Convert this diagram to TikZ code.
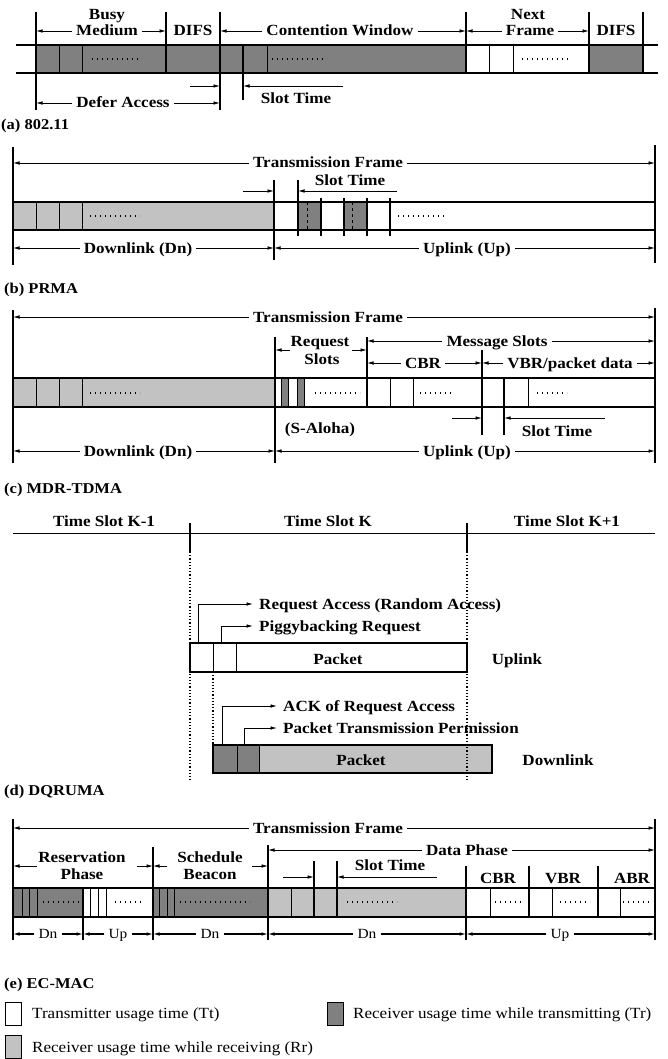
\documentclass[tikz,border=0pt]{standalone}
\usepackage{fontspec}
\setmainfont{Liberation Serif}[FakeStretch=1.1]
\usetikzlibrary{arrows.meta}
\newcommand\labfnt{\fontsize{15.5}{17}\selectfont\bfseries}
\newcommand\capfnt{\fontsize{15}{17}\selectfont\bfseries}
\newcommand\legfnt{\fontsize{15.5}{17}\selectfont}
\newcommand\smfnt{\fontsize{14}{16}\selectfont}
\colorlet{trc}{black!50}
\colorlet{rrc}{black!24}
\newcommand\dimtext[7][lab]{%
  \node[#1] (#2) at (#3,#4) {#7};
  \draw[arr] ([xshift=-4pt]#2.west) -- (#5,#4);
  \draw[arr] ([xshift=4pt]#2.east) -- (#6,#4);}
\begin{document}
\begin{tikzpicture}[x=1pt,y=-1pt,
  lab/.style={font=\labfnt, inner sep=0pt, text height=10pt, text depth=0pt},
  capt/.style={font=\capfnt, inner sep=0pt, text height=10pt, text depth=0pt},
  leg/.style={font=\legfnt, inner sep=0pt, text height=10pt, text depth=0pt},
  sm/.style={font=\smfnt, inner sep=0pt, text height=9pt, text depth=0pt},
  arr/.style={-{Latex[length=6.5pt,width=3.6pt]}, line width=0.8pt},
  vl/.style={line width=1.1pt},
  thin1/.style={line width=0.9pt},
  barl/.style={line width=1.8pt},
  fr/.style={line width=2.4pt},
  dotl/.style={line width=1.4pt, dash pattern=on 1.4pt off 3.6pt},
  dotv/.style={line width=1.2pt, dash pattern=on 1.2pt off 2pt},
  bx/.style={line width=1.3pt},
  legbox/.style={draw, line width=1pt, minimum width=16pt, minimum height=23pt, inner sep=0pt}]
\useasboundingbox (0,0) rectangle (668,1059);

% ---------------- (a) 802.11
\fill[trc] (36,45) rectangle (466,73);
\fill[trc] (589,45) rectangle (643,73);
\draw[thin1] (59,45)--(59,73) (82,45)--(82,73) (267,45)--(267,73) (489,45)--(489,73) (513,45)--(513,73);
\draw[vl] (36,12)--(36,110) (166,12)--(166,73) (220,12)--(220,110) (243,45)--(243,100)
  (466,12)--(466,73) (589,12)--(589,73) (643,12)--(643,73);
\draw[barl] (16,45)--(658,45) (16,73)--(658,73);
\draw[dotl] (92,59)--(140,59) (272,59)--(325,59) (522,59)--(570,59);
\node[lab] (busy) at (107,15) {Busy};
\dimtext{med}{107}{31}{36}{166}{Medium}
\node[lab] (difs1) at (193,31) {DIFS};
\dimtext{cw}{340}{31}{220}{466}{Contention Window}
\node[lab] (next) at (528,15) {Next};
\dimtext{nf}{530}{31}{466}{589}{Frame}
\node[lab] (difs2) at (616,31) {DIFS};
\dimtext{da}{123}{103}{36}{220}{Defer Access}
\draw[arr] (190,86) -- (220,86);
\draw[arr] (343,86) -- (243,86);
\node[lab] (st1) at (296,99) {Slot Time};
\node[capt, anchor=west] (capa) at (1,125) {(a) 802.11};

% ---------------- (b) PRMA
\fill[rrc] (13,202) rectangle (274,230);
\fill[trc] (298,202) rectangle (321,230);
\fill[trc] (344,202) rectangle (367,230);
\draw[thin1] (36,202)--(36,230) (59,202)--(59,230) (82,202)--(82,230);
\draw[thin1, dashed] (307,202)--(307,230) (352,202)--(352,230);
\draw[vl] (274,180)--(274,260) (298,180)--(298,236) (321,198)--(321,236) (344,198)--(344,236)
  (367,198)--(367,236) (390,198)--(390,236);
\draw[barl] (13,202)--(655,202) (13,230)--(655,230);
\draw[fr] (13,147)--(13,265) (655,145)--(655,263);
\draw[dotl] (90,216)--(140,216) (398,216)--(447,216);
\dimtext{tfb}{328}{163}{13}{655}{Transmission Frame}
\draw[arr] (243,191) -- (274,191);
\draw[arr] (397,191) -- (298,191);
\node[lab] (st2) at (350,181) {Slot Time};
\dimtext{dnb}{138}{248}{13}{274}{Downlink (Dn)}
\dimtext{upb}{467}{248}{274}{655}{Uplink (Up)}
\node[capt, anchor=west] (capb) at (4,288) {(b) PRMA};

% ---------------- (c) MDR-TDMA
\fill[rrc] (13,378) rectangle (275,407);
\fill[trc] (281,378) rectangle (288,407);
\fill[trc] (297,378) rectangle (304,407);
\draw[thin1] (36,378)--(36,407) (59,378)--(59,407) (82,378)--(82,407)
  (281,378)--(281,407) (288,378)--(288,407) (297,378)--(297,407) (304,378)--(304,407)
  (390,378)--(390,407) (413,378)--(413,407) (528,378)--(528,407);
\draw[vl] (275,337)--(275,463) (367,337)--(367,407) (482,350)--(482,435) (504,378)--(504,435);
\draw[barl] (13,378)--(655,378) (13,407)--(655,407);
\draw[fr] (13,310)--(13,463) (655,308)--(655,463);
\draw[dotl] (90,393)--(140,393) (315,393)--(360,393) (420,393)--(452,393) (537,393)--(567,393);
\dimtext{tfc}{328}{317}{13}{655}{Transmission Frame}
\node[lab] (req) at (320,341) {Request};
\node[lab] (slots) at (322,359) {Slots};
\draw[arr] (290,350) -- (275,350);
\draw[arr] (352,350) -- (367,350);
\dimtext{ms}{497}{341}{367}{655}{Message Slots}
\dimtext{cbr}{423}{363}{367}{482}{CBR}
\dimtext{vbr}{570}{363}{482}{655}{VBR/packet data}
\node[lab] (aloha) at (320,428) {(S-Aloha)};
\draw[arr] (452,418) -- (482,418);
\draw[arr] (605,418) -- (504,418);
\node[lab] (st3) at (557,431) {Slot Time};
\dimtext{dnc}{138}{451}{13}{275}{Downlink (Dn)}
\dimtext{upc}{467}{451}{275}{655}{Uplink (Up)}
\node[capt, anchor=west] (capc) at (4,488) {(c) MDR-TDMA};

% ---------------- (d) DQRUMA
\node[lab] (k1) at (104,521) {Time Slot K-1};
\node[lab] (k) at (328,521) {Time Slot K};
\node[lab] (k2) at (567,521) {Time Slot K+1};
\draw[line width=1pt] (13,533)--(655,533);
\draw[line width=1.6pt] (190,523)--(190,552) (467,523)--(467,552);
\draw[bx] (190,643) rectangle (467,672);
\draw[thin1] (213,643)--(213,672) (236,643)--(236,672);
\node[lab] (pku) at (338,659) {Packet};
\node[lab] (upl) at (517,659) {Uplink};
\node[lab, anchor=west] (ra) at (259,604) {Request Access (Random Access)};
\node[lab, anchor=west] (pb) at (259,626) {Piggybacking Request};
\draw[arr] (198,643) |- ([xshift=-6pt]ra.west);
\draw[arr] (221,643) |- ([xshift=-6pt]pb.west);
\fill[trc] (213,745) rectangle (259,773);
\fill[rrc] (259,745) rectangle (492,773);
\draw[bx] (213,745) rectangle (492,773);
\draw[thin1] (237,745)--(237,773) (259,745)--(259,773);
\node[lab] (pkd) at (361,760) {Packet};
\node[lab] (dnl) at (558,760) {Downlink};
\node[lab, anchor=west] (ack) at (283,706) {ACK of Request Access};
\node[lab, anchor=west] (ptp) at (283,728) {Packet Transmission Permission};
\draw[arr] (222,745) |- ([xshift=-6pt]ack.west);
\draw[arr] (244,745) |- ([xshift=-6pt]ptp.west);
\draw[dotv] (190,552)--(190,780) (467,552)--(467,780) (213,672)--(213,745);
\node[capt, anchor=west] (capd) at (4,790) {(d) DQRUMA};

% ---------------- (e) EC-MAC
\fill[trc] (13,888) rectangle (83,917);
\fill[trc] (153,888) rectangle (268,917);
\fill[rrc] (268,888) rectangle (466,917);
\draw[thin1] (22,888)--(22,917) (29,888)--(29,917) (37,888)--(37,917)
  (90,888)--(90,917) (98,888)--(98,917) (106,888)--(106,917)
  (159,888)--(159,917) (167,888)--(167,917) (174,888)--(174,917)
  (291,888)--(291,917) (490,888)--(490,917) (552,888)--(552,917) (620,888)--(620,917);
\draw[vl] (83,888)--(83,940) (153,847)--(153,940) (268,845)--(268,940) (314,861)--(314,917)
  (337,861)--(337,917) (466,866)--(466,940) (529,866)--(529,917) (598,866)--(598,917);
\draw[barl] (13,888)--(655,888) (13,917)--(655,917);
\draw[fr] (13,819)--(13,940) (655,819)--(655,940);
\draw[dotl] (43,902)--(80,902) (115,902)--(143,902) (180,902)--(250,902) (347,902)--(397,902)
  (495,902)--(522,902) (560,902)--(590,902) (623,902)--(652,902);
\dimtext{tfe}{328}{828}{13}{655}{Transmission Frame}
\node[lab] (resv) at (82,857) {Reservation};
\node[lab] (phase) at (82,874) {Phase};
\draw[arr] (37,866) -- (13,866);
\draw[arr] (137,866) -- (153,866);
\node[lab] (sch) at (210,857) {Schedule};
\node[lab] (bea) at (210,874) {Beacon};
\draw[arr] (167,866) -- (153,866);
\draw[arr] (252,866) -- (268,866);
\dimtext{dp}{467}{850}{268}{655}{Data Phase}
\draw[arr] (283,877) -- (314,877);
\draw[arr] (437,877) -- (337,877);
\node[lab] (st4) at (390,865) {Slot Time};
\node[lab] (cbre) at (498,878) {CBR};
\node[lab] (vbre) at (563,878) {VBR};
\node[lab] (abre) at (632,878) {ABR};
\begin{scope}[arr/.append style={line width=1.1pt}]
\dimtext[sm]{d1}{48}{934}{13}{83}{Dn}
\dimtext[sm]{u1}{118}{934}{83}{153}{Up}
\dimtext[sm]{d2}{210}{934}{153}{268}{Dn}
\dimtext[sm]{d3}{367}{934}{268}{466}{Dn}
\dimtext[sm]{u2}{560}{934}{466}{655}{Up}
\end{scope}
\node[capt, anchor=west] (cape) at (4,983) {(e) EC-MAC};

% ---------------- legend
\node[legbox] (lb1) at (13,1013.5) {};
\node[leg, anchor=west] (l1) at (32,1013) {Transmitter usage time (Tt)};
\node[legbox, fill=trc] (lb2) at (335.5,1013.5) {};
\node[leg, anchor=west] (l2) at (353,1013) {Receiver usage time while transmitting (Tr)};
\node[legbox, fill=rrc] (lb3) at (13,1047) {};
\node[leg, anchor=west] (l3) at (32,1047) {Receiver usage time while receiving (Rr)};
\end{tikzpicture}
\end{document}
